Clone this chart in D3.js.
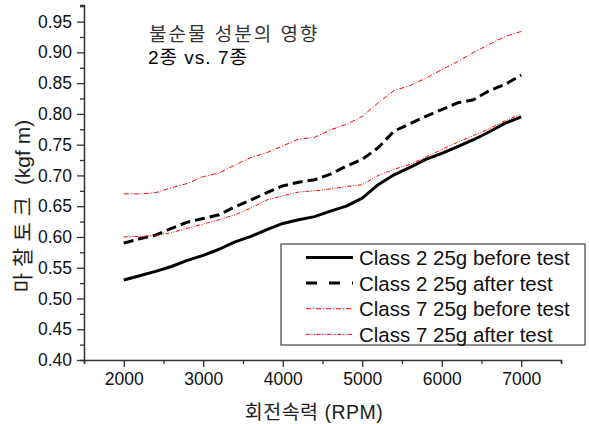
<!DOCTYPE html>
<html>
<head>
<meta charset="utf-8">
<script src="https://cdn.jsdelivr.net/npm/d3@7"></script>
<style>
  body { margin: 0; background: #fff; }
  svg { font-family: "Liberation Sans", Arial, "Noto Sans CJK KR", sans-serif; }
</style>
</head>
<body>
<svg id="chart" width="589" height="424"></svg>
<script>
// rotation speed grid (RPM)
const rpm = [2000, 2200, 2400, 2600, 2800, 3000, 3200, 3400, 3600, 3800, 4000, 4200, 4400,
  4600, 4800, 5000, 5200, 5400, 5600, 5800, 6000, 6200, 6400, 6600, 6800, 7000];

// friction torque (kgf m)
const class2Before = [0.530, 0.537, 0.544, 0.552, 0.562, 0.570, 0.580, 0.592, 0.601, 0.612, 0.622, 0.628, 0.633,
  0.642, 0.650, 0.663, 0.685, 0.701, 0.713, 0.726, 0.736, 0.747, 0.758, 0.771, 0.785, 0.795];
const class2After = [0.590, 0.597, 0.603, 0.614, 0.624, 0.630, 0.636, 0.649, 0.660, 0.672, 0.683, 0.689, 0.693,
  0.702, 0.715, 0.726, 0.745, 0.772, 0.784, 0.796, 0.807, 0.818, 0.823, 0.838, 0.848, 0.863];
const class7Before = [0.670, 0.670, 0.672, 0.680, 0.687, 0.698, 0.704, 0.717, 0.729, 0.737, 0.748, 0.759, 0.762,
  0.774, 0.783, 0.796, 0.818, 0.838, 0.846, 0.858, 0.872, 0.885, 0.900, 0.913, 0.926, 0.934];
const class7After = [0.600, 0.601, 0.602, 0.607, 0.614, 0.621, 0.628, 0.636, 0.647, 0.660, 0.667, 0.673, 0.675,
  0.678, 0.682, 0.685, 0.700, 0.710, 0.718, 0.730, 0.742, 0.754, 0.765, 0.776, 0.789, 0.800];

const seriesNames = ["Class 2 25g before test", "Class 2 25g after test",
  "Class 7 25g before test", "Class 7 25g after test"];
const xTicks = [2000, 3000, 4000, 5000, 6000, 7000];
const yTicks = [0.40, 0.45, 0.50, 0.55, 0.60, 0.65, 0.70, 0.75, 0.80, 0.85, 0.90, 0.95];

const svg = d3.select("#chart");

// scales
const x = d3.scaleLinear().domain([1500, 7500]).range([84, 561]);
const y = d3.scaleLinear().domain([0.4, 0.977]).range([360, 5]);

const axisColor = "#333";

// y axis with major + minor ticks
const yAxis = svg.append("g").attr("transform", "translate(84,0)");
yAxis.call(d3.axisLeft(y).tickValues(d3.range(0.425, 0.98, 0.05)).tickSize(4).tickFormat(""));
yAxis.append("g").call(d3.axisLeft(y).tickValues(yTicks).tickSize(7).tickFormat(d3.format(".2f")));
yAxis.selectAll(".domain").attr("stroke", axisColor).attr("stroke-width", 1.5);
yAxis.selectAll("line").attr("stroke", axisColor).attr("stroke-width", 1.3);
yAxis.selectAll("text").attr("font-size", 17.5).attr("fill", "#111").attr("x", -12);
yAxis.selectAll("g g .domain").remove();

// x axis with major + minor ticks
const xAxis = svg.append("g").attr("transform", "translate(0,360)");
xAxis.call(d3.axisBottom(x).tickValues(d3.range(1500, 7501, 1000)).tickSize(4).tickFormat(""));
xAxis.append("g").call(d3.axisBottom(x).tickValues(xTicks).tickSize(7).tickFormat(d3.format("d")));
xAxis.selectAll(".domain").attr("stroke", axisColor).attr("stroke-width", 1.5);
xAxis.selectAll("line").attr("stroke", axisColor).attr("stroke-width", 1.3);
xAxis.selectAll("text").attr("font-size", 17.5).attr("fill", "#111").attr("y", 13);
xAxis.selectAll("g g .domain").remove();

// axis titles
const yTitle = svg.append("text")
  .attr("transform", "translate(30,206) rotate(-90)")
  .attr("text-anchor", "middle")
  .attr("font-size", 21)
  .attr("fill", "#222");
yTitle.append("tspan").attr("letter-spacing", 6).text("마찰토크");
yTitle.append("tspan").text(" (kgf m)");

svg.append("text")
  .attr("x", 314)
  .attr("y", 419)
  .attr("text-anchor", "middle")
  .attr("font-size", 19.5)
  .attr("letter-spacing", 0.5)
  .attr("fill", "#222")
  .text("회전속력 (RPM)");

// annotation
svg.append("text").attr("x", 149).attr("y", 41).attr("font-size", 19)
  .attr("letter-spacing", 2).attr("fill", "#333").text("불순물 성분의 영향");
svg.append("text").attr("x", 148).attr("y", 64).attr("font-size", 19)
  .attr("letter-spacing", 1).attr("fill", "#000").text("2종 vs. 7종");

// line styles
const styles = [
  { data: class2Before, color: "#000", width: 3, dash: null, legendDash: null },
  { data: class2After, color: "#000", width: 3, dash: "10,5", legendDash: "11,12" },
  { data: class7Before, color: "#ff0000", width: 1, dash: "5,2,1,2", legendDash: "5,2,1,2" },
  { data: class7After, color: "#ff0000", width: 1, dash: "4,1.5,1,1.5,1,1.5", legendDash: "4,1.5,1,1.5,1,1.5" }
];

const line = d3.line()
  .x((d) => x(d[0]))
  .y((d) => y(d[1]));

svg.append("g")
  .selectAll("path")
  .data(styles)
  .enter()
  .append("path")
  .attr("d", (s) => line(rpm.map((r, i) => [r, s.data[i]])))
  .attr("fill", "none")
  .attr("stroke", (s) => s.color)
  .attr("stroke-width", (s) => s.width)
  .attr("stroke-dasharray", (s) => s.dash)
  .attr("stroke-linejoin", "round");

// legend
const legend = svg.append("g");
legend.append("rect")
  .attr("x", 281)
  .attr("y", 244)
  .attr("width", 304)
  .attr("height", 101)
  .attr("fill", "#fff")
  .attr("stroke", "#444")
  .attr("stroke-width", 1.2);

const rows = legend.selectAll(".row")
  .data(styles)
  .enter()
  .append("g")
  .attr("class", "row")
  .attr("transform", (d, i) => "translate(0," + (257.5 + i * 25.6) + ")");

rows.append("line")
  .attr("x1", 306)
  .attr("x2", 353)
  .attr("stroke", (s) => s.color)
  .attr("stroke-width", (s) => s.width)
  .attr("stroke-dasharray", (s) => s.legendDash);

rows.append("text")
  .attr("x", 359)
  .attr("y", 7.5)
  .attr("font-size", 20.5)
  .attr("fill", "#111")
  .text((d, i) => seriesNames[i]);
</script>
</body>
</html>
